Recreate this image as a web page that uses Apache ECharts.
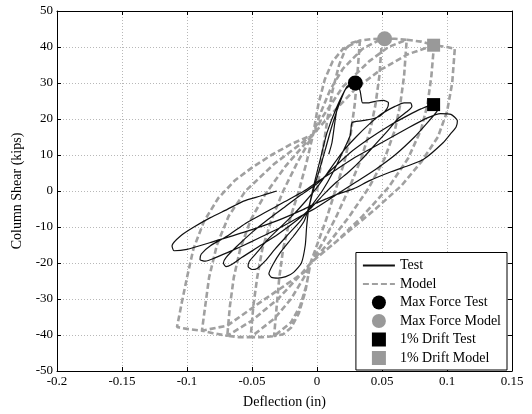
<!DOCTYPE html>
<html><head><meta charset="utf-8">
<script src="https://cdn.jsdelivr.net/npm/echarts@6/dist/echarts.min.js"></script>
<style>html,body{margin:0;padding:0;background:#fff}#c{width:532px;height:414px}</style>
</head><body><div id="c"></div>
<script>
// ---- data ----
const xTicks = [-0.2, -0.15, -0.1, -0.05, 0, 0.05, 0.1, 0.15];
const yTicks = [-50, -40, -30, -20, -10, 0, 10, 20, 30, 40, 50];
const legendNames = ['Test', 'Model', 'Max Force Test', 'Max Force Model', '1% Drift Test', '1% Drift Model'];

const testCurve = [
  [0.009,10.2],[0.0115,13.4],[0.0154,22.6],[0.022,28.3],[0.0295,30],
  [0.023,28.8],[0.0154,23.5],[0.0077,16.2],[0.0025,8.8],[-0.0026,1.4],[-0.006,-4],
  [-0.01,-8.5],[-0.018,-12.5],[-0.028,-17],[-0.034,-20.5],[-0.037,-23],[-0.035,-24],[-0.03,-24.2],[-0.024,-23.8],[-0.018,-22.6],[-0.012,-20],[-0.009,-15],[-0.008,-10],[-0.0064,-5.1],
  [-0.003,0],[0.002,6],[0.006,11],[0.011,17.5],[0.017,24],[0.023,29],[0.0295,30],
  [0.033,28],[0.034,26],[0.035,24.5],[0.04,24.5],[0.046,25],[0.051,25.2],[0.055,24.5],[0.054,23],[0.049,21],
  [0.042,20],[0.034,19.5],[0.027,19],[0.0256,15.5],[0.02,11],[0.012,5],[0.004,0],[-0.004,-4],
  [-0.012,-8],[-0.022,-12],[-0.032,-16],[-0.04,-19.5],[-0.046,-21.5],[-0.05,-21.8],[-0.053,-21],[-0.052,-19.5],
  [-0.046,-17],[-0.038,-13.5],[-0.028,-10],[-0.018,-6.5],[-0.008,-2.5],[0,1],
  [0.01,6],[0.02,11],[0.03,15],[0.04,18.5],[0.05,21.5],[0.06,23.5],[0.067,24.5],[0.072,24.5],[0.073,23.5],[0.069,22],[0.062,20],
  [0.055,17],[0.045,13],[0.035,9],[0.025,5.5],[0.015,2.5],[0.005,-1],[-0.004,-4.5],
  [-0.015,-8],[-0.03,-12],[-0.045,-15.5],[-0.058,-18.5],[-0.066,-20.5],[-0.07,-21],[-0.072,-20],[-0.07,-18.5],
  [-0.062,-15.5],[-0.05,-11.5],[-0.038,-8],[-0.025,-4.5],[-0.012,-1],[0,2],
  [0.01,5.5],[0.025,10.5],[0.04,14.5],[0.055,18],[0.07,21],[0.08,22.8],[0.0897,24],[0.094,23.5],[0.092,22],
  [0.085,19],[0.075,15],[0.06,10],[0.045,6],[0.03,2.5],[0.015,-1],[0,-4.5],
  [-0.015,-7.5],[-0.03,-10.5],[-0.05,-14],[-0.065,-16.5],[-0.078,-18.5],[-0.086,-19.5],[-0.09,-19],[-0.089,-17.5],
  [-0.082,-15.2],[-0.069,-12.5],[-0.055,-9],[-0.04,-6],[-0.025,-3],[-0.01,0],[0,2.5],
  [0.015,6],[0.03,9.5],[0.05,13.5],[0.07,17.5],[0.085,20.3],[0.095,21.5],[0.103,21.3],[0.108,19.5],[0.107,17.8],[0.103,16],
  [0.097,13.4],[0.082,8.8],[0.07,7],[0.056,5.2],[0.04,2.8],[0.028,0.6],[0.015,-1],[0.007,-2.2],[-0.0026,-3.7],
  [-0.0103,-5.1],[-0.031,-8.3],[-0.0565,-11.5],[-0.082,-14.3],[-0.1,-16.2],[-0.11,-16.6],[-0.1115,-15.2],
  [-0.105,-12.5],[-0.095,-10.1],[-0.082,-7.4],[-0.069,-5.1],[-0.0565,-2.8],[-0.0436,-1.4],[-0.031,0]
];

const modelCurve = [
  [0,0],[0.004,10],[0.008,20],[0.012,28],[0.017,35],[0.022,39.5],[0.027,41.2],[0.033,41.8],
  [0.031,32],[0.029,24],[0.026,16],[0.021,8],[0.014,0],[0.007,-8],[0.001,-14],[-0.005,-20],
  [-0.009,-28],[-0.014,-34],[-0.02,-38],[-0.026,-39.8],[-0.033,-40.3],
  [-0.031,-32],[-0.029,-24],[-0.026,-16],[-0.021,-8],[-0.014,0],[-0.008,8],[-0.003,15.7],
  [0.001,24],[0.006,31],[0.012,36],[0.02,39.5],[0.033,41.8],[0.042,42.2],[0.05,42.3],
  [0.048,32],[0.045,24],[0.041,17],[0.034,9],[0.025,1],[0.015,-7],[0.005,-14],[-0.005,-20],
  [-0.008,-26],[-0.013,-32],[-0.02,-36.5],[-0.033,-40.3],[-0.042,-40.6],[-0.051,-40.6],
  [-0.049,-32],[-0.046,-24],[-0.042,-16],[-0.035,-8],[-0.026,0],[-0.015,8],[-0.003,15.7],
  [0.002,21],[0.01,28],[0.02,34],[0.035,39.5],[0.05,42.3],[0.06,42.3],[0.069,42],
  [0.067,32],[0.064,24],[0.06,17],[0.052,9],[0.04,1],[0.025,-7],[0.01,-14],[-0.005,-20],
  [-0.01,-24],[-0.02,-30],[-0.033,-35.5],[-0.051,-40.6],[-0.06,-40.6],[-0.069,-40.2],
  [-0.067,-32],[-0.064,-24],[-0.059,-16],[-0.051,-8],[-0.04,-1],[-0.024,7],[-0.003,15.7],
  [0.005,21],[0.02,29],[0.04,36],[0.055,40],[0.069,42],[0.08,41.5],[0.09,40.5],
  [0.088,32],[0.085,24],[0.08,17],[0.07,9],[0.055,1],[0.035,-7],[0.015,-14],[-0.005,-20],
  [-0.012,-23],[-0.03,-30],[-0.05,-36],[-0.069,-40.2],[-0.08,-39.5],[-0.0885,-38.8],
  [-0.086,-32],[-0.083,-24],[-0.077,-15],[-0.068,-7],[-0.055,0],[-0.033,7.5],[-0.003,15.7],
  [0.01,21],[0.03,28.5],[0.049,33.7],[0.07,38],[0.09,40.5],[0.1,40],[0.106,39.5],
  [0.104,30],[0.1,22],[0.093,15],[0.08,8],[0.065,1.5],[0.045,-5],[0.025,-11],[0.01,-15.5],[-0.005,-20],
  [-0.01,-22.6],[-0.044,-31],[-0.069,-37.4],[-0.0885,-38.8],[-0.1,-38.3],[-0.1077,-37.8],
  [-0.104,-31],[-0.1,-24],[-0.095,-16],[-0.087,-8.5],[-0.076,-2],[-0.063,3],[-0.05,6.5],[-0.035,10],[-0.02,13],[-0.003,15.7]
];

const maxForceTest = [[0.0295, 30]];
const maxForceModel = [[0.052, 42.3]];
const driftTest = [[0.0897, 24]];
const driftModel = [[0.0897, 40.5]];

// ---- chart ----
const FONT = '"Liberation Serif", "Times New Roman", serif';
const chart = echarts.init(document.getElementById('c'), null, {renderer: 'canvas'});
const gridLine = {show: true, lineStyle: {color: '#b8b8b8', type: [1, 2], width: 1}};
const axisCommon = {
  axisLine: {show: true, onZero: false, lineStyle: {color: '#000', width: 1}},
  axisTick: {show: true, inside: true, length: 4, lineStyle: {color: '#000'}},
};
const fmt = ticks => v => { const t = ticks.find(k => Math.abs(k - v) < 1e-9); return t === undefined ? '' : String(t); };
const SQUARE = 'path://M0,0L10,0L10,10L0,10Z';
chart.setOption({
  animation: false,
  backgroundColor: '#fff',
  grid: {left: 57, right: 20, top: 11, bottom: 42, containLabel: false},
  xAxis: [{
    type: 'value', min: -0.2, max: 0.15, interval: 0.05,
    ...axisCommon,
    splitLine: gridLine,
    axisLabel: {color: '#000', fontFamily: FONT, fontSize: 13, margin: 4, formatter: fmt(xTicks)},
    name: 'Deflection (in)', nameLocation: 'middle', nameGap: 24,
    nameTextStyle: {color: '#000', fontFamily: FONT, fontSize: 14}
  }, {
    type: 'value', min: -0.2, max: 0.15, interval: 0.05, position: 'top',
    ...axisCommon, axisLabel: {show: false}, splitLine: {show: false}
  }],
  yAxis: [{
    type: 'value', min: -50, max: 50, interval: 10,
    ...axisCommon,
    splitLine: gridLine,
    axisLabel: {color: '#000', fontFamily: FONT, fontSize: 13, margin: 4, formatter: fmt(yTicks)},
    name: 'Column Shear (kips)', nameLocation: 'middle', nameGap: 32,
    nameTextStyle: {color: '#000', fontFamily: FONT, fontSize: 14}
  }, {
    type: 'value', min: -50, max: 50, interval: 10, position: 'right',
    ...axisCommon, axisLabel: {show: false}, splitLine: {show: false}
  }],
  legend: {
    orient: 'vertical', right: 25, bottom: 44,
    backgroundColor: '#fff', borderColor: '#000', borderWidth: 1,
    padding: [6, 6, 5, 6], itemGap: 4.5, itemWidth: 32, itemHeight: 14,
    textStyle: {color: '#000', fontFamily: FONT, fontSize: 14},
    data: [
      {name: legendNames[0], itemStyle: {opacity: 0, borderWidth: 0}},
      {name: legendNames[1], itemStyle: {opacity: 0, borderWidth: 0}},
      {name: legendNames[2], icon: 'circle'},
      {name: legendNames[3], icon: 'circle'},
      {name: legendNames[4], icon: SQUARE},
      {name: legendNames[5], icon: SQUARE}
    ]
  },
  series: [
    {name: legendNames[1], type: 'line', data: modelCurve, showSymbol: false, symbol: 'none', z: 2,
      lineStyle: {color: '#a0a0a0', width: 2.6, type: [6, 3]}, itemStyle: {color: '#a0a0a0'}},
    {name: legendNames[0], type: 'line', data: testCurve, showSymbol: false, symbol: 'none', z: 3, smooth: 0.2,
      lineStyle: {color: '#111', width: 1.2}, itemStyle: {color: '#111'}},
    {name: legendNames[2], type: 'scatter', data: maxForceTest, symbol: 'circle', symbolSize: 15, z: 5,
      itemStyle: {color: '#000', opacity: 1}},
    {name: legendNames[3], type: 'scatter', data: maxForceModel, symbol: 'circle', symbolSize: 15, z: 5,
      itemStyle: {color: '#999', opacity: 1}},
    {name: legendNames[4], type: 'scatter', data: driftTest, symbol: 'rect', symbolSize: 13, z: 5,
      itemStyle: {color: '#000', opacity: 1}},
    {name: legendNames[5], type: 'scatter', data: driftModel, symbol: 'rect', symbolSize: 13, z: 5,
      itemStyle: {color: '#999', opacity: 1}}
  ]
});
</script></body></html>
